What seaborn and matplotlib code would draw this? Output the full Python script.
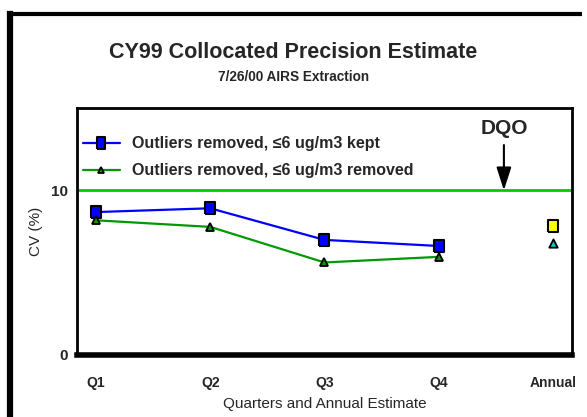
import pandas as pd
import seaborn as sns
import matplotlib.pyplot as plt
from matplotlib.lines import Line2D

# chart values
quarters = ['Q1', 'Q2', 'Q3', 'Q4']
x_labels = ['Q1', 'Q2', 'Q3', 'Q4', 'Annual']
cv_kept = [8.68, 8.91, 6.99, 6.62]
cv_removed = [8.18, 7.78, 5.62, 5.96]
annual_kept = 7.82
annual_removed = 6.79
dqo = 10

label_kept = 'Outliers removed, \u22646 ug/m3 kept'
label_removed = 'Outliers removed, \u22646 ug/m3 removed'

df = pd.DataFrame({
    'pos': list(range(len(quarters))) * 2,
    'cv': cv_kept + cv_removed,
    'series': [label_kept] * 4 + [label_removed] * 4,
})

sns.set_style('white')
plt.rcParams['font.family'] = ['Liberation Sans', 'DejaVu Sans']

fig = plt.figure(figsize=(5.87, 4.17), dpi=100)
ax = fig.add_axes([77 / 587, 1 - 355 / 417, 495 / 587, 247 / 417])

rect_marker = [(-0.75, -1), (0.75, -1), (0.75, 1), (-0.75, 1), (-0.75, -1)]

sns.lineplot(data=df[df.series == label_kept], x='pos', y='cv', ax=ax,
             color='#0000ff', lw=1.6, marker=rect_marker, markersize=9,
             markerfacecolor='#0000ff', markeredgecolor='black', markeredgewidth=1.5,
             legend=False)
sns.lineplot(data=df[df.series == label_removed], x='pos', y='cv', ax=ax,
             color='#009a00', lw=1.6, marker='^', markersize=6,
             markerfacecolor='#009a00', markeredgecolor='black', markeredgewidth=1.3,
             legend=False)

# annual estimates
ann = pd.DataFrame({'pos': [4, 4], 'cv': [annual_kept, annual_removed]})
sns.scatterplot(data=ann.iloc[[0]], x='pos', y='cv', ax=ax, marker=rect_marker,
                s=75, color='#ffff00', edgecolor='black', linewidth=1.5, zorder=5)
sns.scatterplot(data=ann.iloc[[1]], x='pos', y='cv', ax=ax, marker='^',
                s=36, color='#00cccc', edgecolor='black', linewidth=1.3, zorder=5)

# DQO reference line and arrow
ax.axhline(dqo, color='#00cc00', lw=2)
ax.annotate('', xy=(3.57, dqo), xytext=(3.57, 12.75),
            arrowprops=dict(arrowstyle='-|>,head_length=1.4,head_width=0.45',
                            color='black', lw=1.5, shrinkA=0, shrinkB=0))
ax.text(3.57, 13.4, 'DQO', ha='center', va='baseline', fontsize=15, fontweight='bold')

ax.set_xlim(-0.166, 4.166)
ax.set_ylim(0, 15)
ax.set_xticks(range(len(x_labels)))
ax.set_xticklabels(x_labels, fontweight='bold', fontsize=10)
ax.set_yticks([0, 10])
ax.set_yticklabels(['0', '10'], fontweight='bold', fontsize=11)
ax.tick_params(axis='x', length=0, pad=15)
ax.tick_params(axis='y', length=0, pad=6.5)
ax.set_xlabel('Quarters and Annual Estimate', fontsize=11, labelpad=5)
ax.set_ylabel('CV (%)', fontsize=11, labelpad=6)

for side in ['left', 'right', 'top']:
    ax.spines[side].set_linewidth(2)
    ax.spines[side].set_color('black')
ax.spines['bottom'].set_linewidth(4)
ax.spines['bottom'].set_color('black')

handles = [
    Line2D([], [], color='#0000ff', lw=1.6, marker=rect_marker, markersize=8,
           markerfacecolor='#0000ff', markeredgecolor='black', markeredgewidth=1.5),
    Line2D([], [], color='#009a00', lw=1.6, marker='^', markersize=5,
           markerfacecolor='#009a00', markeredgecolor='black', markeredgewidth=1.3),
]
ax.legend(handles, [label_kept, label_removed], loc='upper left',
          bbox_to_anchor=(0.012, 0.885), frameon=False, borderaxespad=0, borderpad=0,
          handlelength=2.3, handletextpad=0.8,
          prop={'weight': 'bold', 'size': 11.5}, labelspacing=0.75)

fig.text(0.5, 1 - 52 / 417, 'CY99 Collocated Precision Estimate',
         ha='center', va='center', fontsize=15.5, fontweight='bold')
fig.text(0.5, 1 - 77 / 417, '7/26/00 AIRS Extraction',
         ha='center', va='center', fontsize=9.8, fontweight='bold')

# outer frame (left and top edges visible)
fig.add_artist(Line2D([10 / 587, 10 / 587], [0, 1 - 14 / 417], color='black',
                      lw=4.5, transform=fig.transFigure, solid_capstyle='projecting'))
fig.add_artist(Line2D([10 / 587, 582 / 587], [1 - 14 / 417, 1 - 14 / 417], color='black',
                      lw=3, transform=fig.transFigure, solid_capstyle='butt'))

fig.savefig('out.png', dpi=100)
